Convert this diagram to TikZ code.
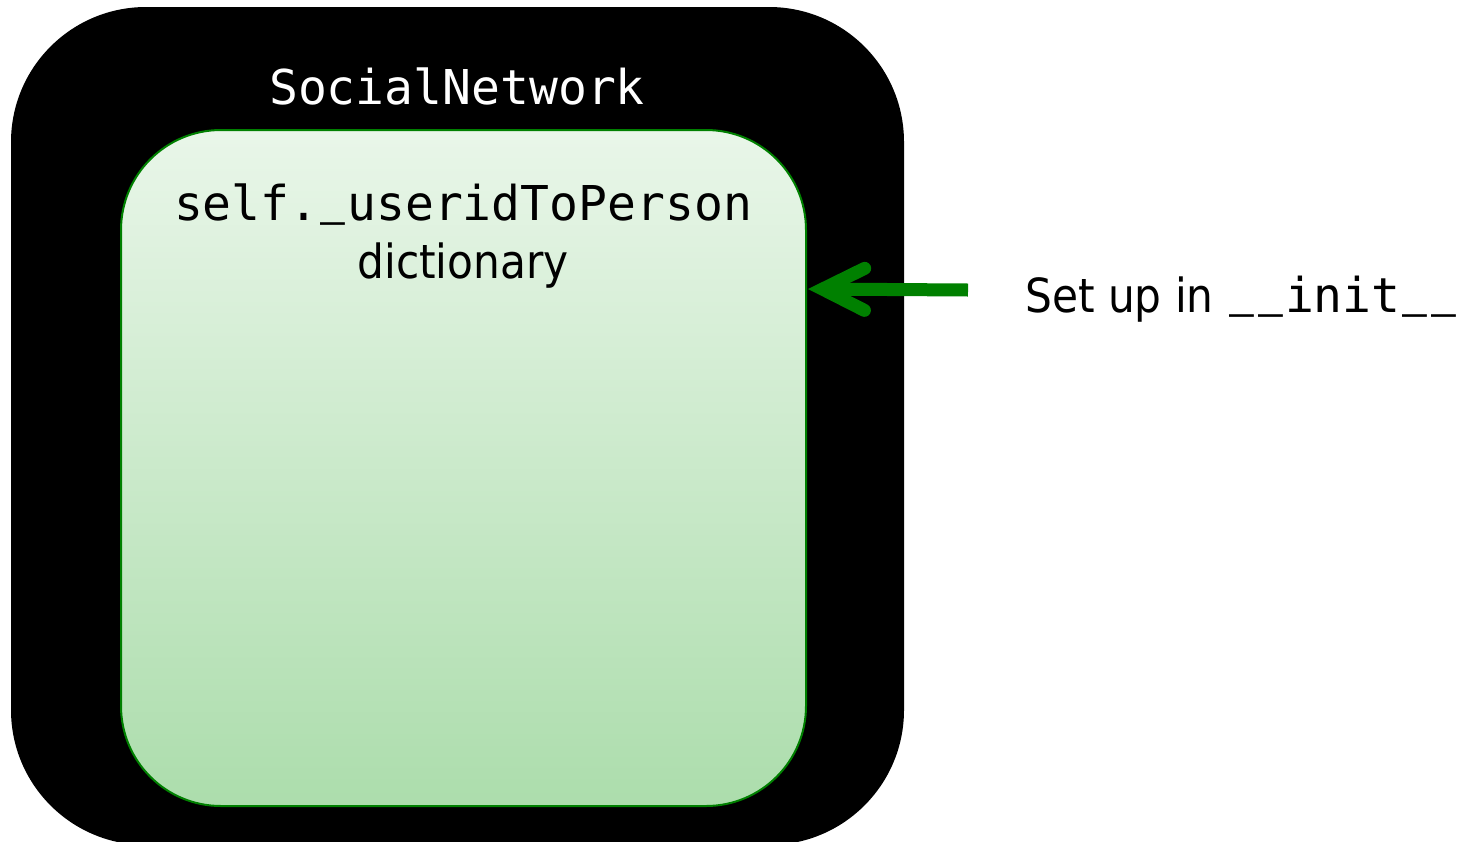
\documentclass[tikz,border=0pt]{standalone}
\usepackage{fontspec}
\usepackage{graphicx}
\setmonofont{DejaVu Sans Mono}
\newfontfamily\labelsans[FakeStretch=0.9]{DejaVu Sans}
\usetikzlibrary{arrows.meta}
% a shorter underscore sitting on the baseline, one monospace cell wide
\newcommand\monous{\makebox[0.602em]{\raisebox{0.22em}{\scalebox{0.86}[1.4]{\_}}}}
\definecolor{boxgreen}{RGB}{0,128,0}
\definecolor{fillTop}{RGB}{233,246,233}
\definecolor{fillBottom}{RGB}{172,221,172}
\tikzset{
  outerbox/.style={fill=black, draw=none, rounded corners=135pt,
    minimum width=893pt, minimum height=838pt, inner sep=0pt},
  innerbox/.style={draw=boxgreen, line width=2pt, rounded corners=100pt,
    top color=fillTop, bottom color=fillBottom,
    minimum width=685pt, minimum height=676pt, inner sep=0pt},
  monotext/.style={font=\fontsize{48}{58}\selectfont\ttfamily, inner sep=0pt, anchor=base},
  sanstext/.style={font=\fontsize{47}{56}\selectfont\labelsans, inner sep=0pt, anchor=base},
  setuparrow/.style={draw=boxgreen, line width=13pt,
    -{Straight Barb[length=42pt, width=42pt, line cap=round, line join=miter]}},
}
\begin{document}
\begin{tikzpicture}[x=1pt, y=-1pt]
  \useasboundingbox (0,0) rectangle (1472,841);
  % outer class frame and inner dictionary store
  \node[outerbox] (net) at (457.5,426) {};
  \node[innerbox] (dict) at (463.5,468) {};
  % labels
  \node[monotext, text=white] (netlabel) at (457,104) {SocialNetwork};
  \node[monotext] (dictname) at (463,220) {self.\monous useridToPerson};
  \node[sanstext] (dictkind) at (463,278) {dictionary};
  \node[anchor=base west, inner sep=0pt] (setup) at (1025,312)
    {{\fontsize{47}{56}\selectfont\labelsans Set up in }{\fontsize{48}{58}\selectfont\ttfamily \monous\monous init\monous\monous}};
  % arrow into the dictionary
  \coordinate (tail) at (968,290);
  \coordinate (tip) at (808,289);
  \draw[setuparrow] (tail) -- (tip);
\end{tikzpicture}
\end{document}
